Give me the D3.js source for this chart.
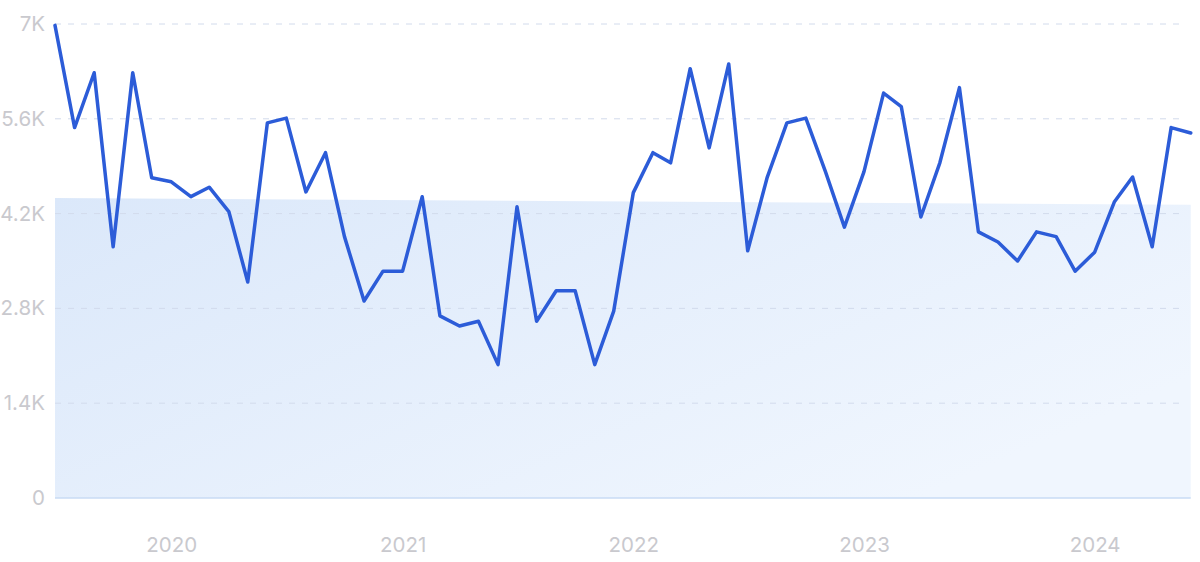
<!DOCTYPE html>
<html>
<head>
<meta charset="utf-8">
<script src="https://cdn.jsdelivr.net/npm/d3@7/dist/d3.min.js"></script>
<style>
  html, body { margin: 0; padding: 0; background: #fff; }
  svg { display: block; }
  text { font-family: Inter, "Noto Sans", sans-serif; }
</style>
</head>
<body>
<svg id="chart" width="1200" height="562"></svg>
<script>
// ---- data ----
const startMonth = "2019-07";
const values = [
  6980, 5470, 6280, 3710, 6280, 4730, 4670, 4450, 4590, 4230,
  3190, 5540, 5610, 4520, 5100, 3860, 2910, 3350, 3350, 4450,
  2690, 2540, 2610, 1970, 4300, 2610, 3060, 3060, 1970, 2760,
  4510, 5100, 4950, 6340, 5170, 6410, 3650, 4740, 5540, 5610,
  4820, 4000, 4820, 5980, 5780, 4150, 4950, 6060, 3930, 3780,
  3500, 3930, 3860, 3350, 3630, 4370, 4740, 3710, 5470, 5390
];
const bandTop = [4430, 4330];           // shaded band top at start / end
const yTicks = [0, 1400, 2800, 4200, 5600, 7000];
const yTickLabels = ["0", "1.4K", "2.8K", "4.2K", "5.6K", "7K"];
const xTickYears = [2020, 2021, 2022, 2023, 2024];

// ---- build ----
(function () {
const parse = d3.timeParse("%Y-%m");
const t0 = parse(startMonth);
const data = values.map((v, i) => ({ date: d3.timeMonth.offset(t0, i), value: v }));
const tEnd = data[data.length - 1].date;

const svg = d3.select("#chart");
const mLeft = 55, mRight = 1190.75, mTop = 24, mBottom = 498;

const x = d3.scaleTime().domain([t0, tEnd]).range([mLeft, mRight]);
const y = d3.scaleLinear().domain([0, 7000]).range([mBottom, mTop]);

const defs = svg.append("defs");
const grad = defs.append("linearGradient").attr("id", "bandGrad")
  .attr("x1", "0%").attr("y1", "0%").attr("x2", "100%").attr("y2", "60%");
grad.append("stop").attr("offset", "0%").attr("stop-color", "#dbe8fa");
grad.append("stop").attr("offset", "100%").attr("stop-color", "#f0f6fe");

// band
const bandData = [
  { date: t0, top: bandTop[0] },
  { date: tEnd, top: bandTop[1] }
];
svg.append("path")
  .datum(bandData)
  .attr("fill", "url(#bandGrad)")
  .attr("d", d3.area().x(d => x(d.date)).y0(y(0)).y1(d => y(d.top)));

// baseline
svg.append("line")
  .attr("x1", x(t0)).attr("x2", x(tEnd))
  .attr("y1", y(0)).attr("y2", y(0))
  .attr("stroke", "#c9dbf5").attr("stroke-width", 1.5);

// grid lines
svg.append("g").selectAll("line")
  .data(yTicks.filter(d => d > 0))
  .join("line")
  .attr("x1", mLeft).attr("x2", 1184)
  .attr("y1", d => y(d)).attr("y2", d => y(d))
  .attr("stroke", "#d2dbec")
  .attr("stroke-width", 1)
  .attr("stroke-dasharray", "6,7");

// y axis labels
const yAxis = d3.axisLeft(y).tickValues(yTicks)
  .tickFormat((d, i) => yTickLabels[i]).tickSize(0).tickPadding(0);
const gy = svg.append("g").attr("transform", "translate(45,0)").call(yAxis);
gy.select(".domain").remove();
gy.selectAll("text")
  .attr("fill", "#c9c9ce")
  .attr("font-size", 20.5)
  .attr("font-family", "Inter, 'Noto Sans', sans-serif");

// x axis labels
const xAxis = d3.axisBottom(x)
  .tickValues(xTickYears.map(yr => new Date(yr, 0, 1)))
  .tickFormat(d3.timeFormat("%Y")).tickSize(0).tickPadding(0);
const gx = svg.append("g").attr("transform", "translate(0,537)").call(xAxis);
gx.select(".domain").remove();
gx.selectAll("text")
  .attr("fill", "#c9c9ce")
  .attr("font-size", 20.5)
  .attr("font-family", "Inter, 'Noto Sans', sans-serif");

// line
svg.append("path")
  .datum(data)
  .attr("fill", "none")
  .attr("stroke", "#2c5cd8")
  .attr("stroke-width", 3.5)
  .attr("stroke-linejoin", "round")
  .attr("stroke-linecap", "round")
  .attr("d", d3.line().x(d => x(d.date)).y(d => y(d.value)));
})();
</script>
</body>
</html>
